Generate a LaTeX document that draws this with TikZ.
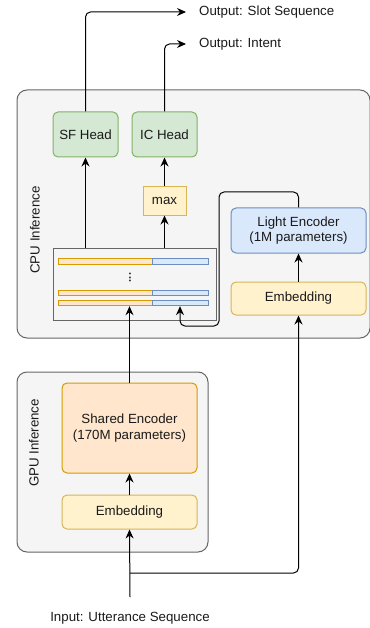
\documentclass[tikz,border=0pt]{standalone}
\usepackage{fontspec}
\setmainfont{Liberation Sans}
\usetikzlibrary{arrows.meta}

\definecolor{grpfill}{HTML}{F5F5F5}
\definecolor{grpline}{HTML}{666666}
\definecolor{greenfill}{HTML}{D5E8D4}
\definecolor{greenline}{HTML}{82B366}
\definecolor{yellowfill}{HTML}{FFF2CC}
\definecolor{yellowline}{HTML}{D6B656}
\definecolor{bluefill}{HTML}{DAE8FC}
\definecolor{blueline}{HTML}{6C8EBF}
\definecolor{orangefill}{HTML}{FFE6CC}
\definecolor{orangeline}{HTML}{D79B00}
\definecolor{txt}{HTML}{1A1A1A}

\tikzset{
  every node/.style={font=\fontsize{13.3}{15.5}\selectfont, text=txt, inner sep=0pt},
  group/.style={draw=grpline, fill=grpfill, line width=1pt, rounded corners=10pt},
  blockbox/.style={line width=1pt, rounded corners=5pt, align=center},
  greenbox/.style={blockbox, draw=greenline, fill=greenfill},
  yellowbox/.style={blockbox, draw=yellowline, fill=yellowfill},
  bluebox/.style={blockbox, draw=blueline, fill=bluefill},
  orangebox/.style={blockbox, draw=orangeline, fill=orangefill},
  sqbox/.style={draw=yellowline, fill=yellowfill, line width=1pt, align=center},
  tokenbox/.style={draw=grpline, fill=grpfill, line width=1pt},
  barA/.style={draw=orangeline, fill=orangefill, line width=0.9pt, minimum width=94pt, minimum height=5.5pt},
  barB/.style={draw=blueline, fill=bluefill, line width=0.9pt, minimum width=56pt, minimum height=5.5pt},
  flow/.style={draw=black, line width=1pt, rounded corners=5pt,
    -{Stealth[length=9pt, width=8pt, inset=3pt]}},
}

\begin{document}
\begin{tikzpicture}[x=1pt, y=-1pt]
  \useasboundingbox (0,0) rectangle (369,628);

  % containers
  \node[group, minimum width=353pt, minimum height=248pt] (cpu) at (193.5,214) {};
  \node[group, minimum width=191pt, minimum height=180pt] (gpu) at (112.5,462) {};
  \node[rotate=90] (cpulbl) at (35,230) {CPU Inference};
  \node[rotate=90] (gpulbl) at (34,443) {GPU Inference};

  % CPU side
  \node[greenbox, minimum width=65pt, minimum height=45pt] (sf) at (85.5,134.5) {SF Head};
  \node[greenbox, minimum width=65pt, minimum height=45pt] (ic) at (164.5,134.5) {IC Head};
  \node[sqbox, minimum width=43pt, minimum height=28pt] (max) at (164.5,201) {max};
  \node[bluebox, minimum width=135pt, minimum height=45pt] (light) at (298.5,230.5) {Light Encoder\\(1M parameters)};
  \node[yellowbox, minimum width=135pt, minimum height=33pt] (embc) at (298.5,298.5) {Embedding};

  % token representation matrix
  \node[tokenbox, minimum width=163pt, minimum height=72pt] (mat) at (134.5,284) {};
  \node[barA] (bar1o) at (105,261.5) {};
  \node[barB] (bar1b) at (180,261.5) {};
  \node[barA] (bar2o) at (105,293) {};
  \node[barB] (bar2b) at (180,293) {};
  \node[barA] (bar3o) at (105,303) {};
  \node[barB] (bar3b) at (180,303) {};
  \node[rotate=90, font=\fontsize{11}{12}\selectfont\bfseries] (dots) at (130,277.5) {...};

  % GPU side
  \node[orangebox, minimum width=135pt, minimum height=90pt] (shenc) at (129.5,428) {Shared Encoder\\(170M parameters)};
  \node[yellowbox, minimum width=135pt, minimum height=34pt] (embg) at (129.5,512) {Embedding};

  % input / outputs
  \coordinate (in) at (130,597);
  \coordinate (split) at (130,573);
  \node (intext) at (130,618) {Input: Utterance Sequence};
  \coordinate (outS) at (186,12);
  \coordinate (outI) at (186,44);
  \node[anchor=west] (outStext) at (199,12) {Output: Slot Sequence};
  \node[anchor=west] (outItext) at (199,44) {Output: Intent};

  % connectors
  \draw[flow] (in) -- (embg.south);
  \draw[flow] (split) -- (split -| embc.south) -- (embc.south);
  \draw[flow] (embg.north) -- (shenc.south);
  \draw[flow] (shenc.north) -- (shenc.north |- bar3o.south);
  \draw[flow] (embc.north) -- (light.south);
  \draw[flow] (light.north) |- (219,192) -- (219,326) -| (bar3b.south);
  \draw[flow] (mat.north -| sf.south) -- (sf.south);
  \draw[flow] (mat.north -| max.south) -- (max.south);
  \draw[flow] (max.north) -- (ic.south);
  \draw[flow] (sf.north) |- (outS);
  \draw[flow] (ic.north) |- (outI);
\end{tikzpicture}
\end{document}
